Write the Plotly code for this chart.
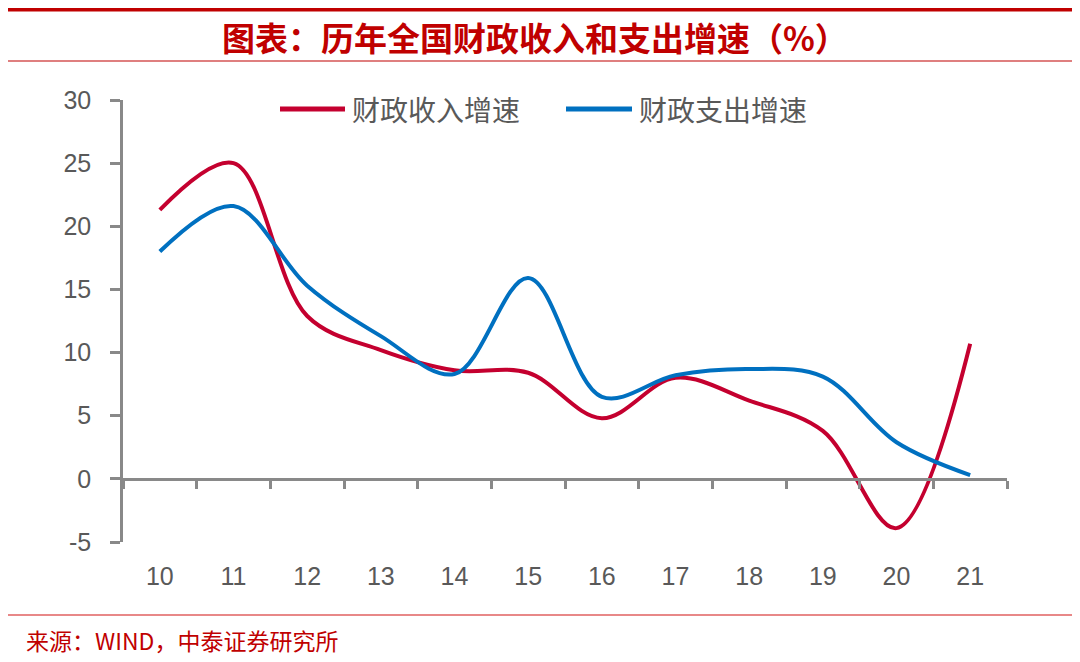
import plotly.graph_objects as go

years = ["10", "11", "12", "13", "14", "15", "16", "17", "18", "19", "20", "21"]
revenue = [21.3, 25.0, 12.9, 10.2, 8.6, 8.4, 4.8, 8.0, 6.2, 3.8, -3.9, 10.7]
expenditure = [18.0, 21.6, 15.3, 11.3, 8.3, 15.9, 6.5, 8.2, 8.7, 8.1, 2.9, 0.3]
y_ticks = [-5, 0, 5, 10, 15, 20, 25, 30]
rev_name = "财政收入增速"
exp_name = "财政支出增速"
title_text = "图表：历年全国财政收入和支出增速（%）"
source_text = "来源：WIND，中泰证券研究所"

RED = "#C4002F"
BLUE = "#0070C0"
AXIS = "#898989"
TXT = "#595959"

# page body has an 8px margin; plot area in window: x 123..1007, y 100..542
PW, PH = 884, 442


def px(X):
    return (X - 123) / PW


def py(Y):
    return (542 - Y) / PH


xi = list(range(len(years)))

fig = go.Figure()
fig.add_trace(go.Scatter(x=xi, y=revenue, name=rev_name, mode="lines",
                         line=dict(color=RED, width=4, shape="spline", smoothing=1.0)))
fig.add_trace(go.Scatter(x=xi, y=expenditure, name=exp_name, mode="lines",
                         line=dict(color=BLUE, width=4, shape="spline", smoothing=1.0)))
fig.add_trace(go.Scatter(x=[-0.5], y=[0], xaxis="x2", mode="markers",
                         marker=dict(opacity=0), showlegend=False, hoverinfo="skip"))

ymin, ymax = -5, 30
fig.update_layout(
    width=1072, height=654,
    paper_bgcolor="white", plot_bgcolor="white",
    margin=dict(l=115, r=73, t=92, b=120, autoexpand=False),
    font=dict(family="Liberation Sans, Arial", color=TXT),
    showlegend=False,
    xaxis=dict(range=[-0.5, len(years) - 0.5], tickvals=xi, ticktext=years,
               showline=False, showgrid=False, zeroline=False, ticks="", automargin=False,
               tickfont=dict(size=25, color=TXT), ticklabelstandoff=17),
    xaxis2=dict(overlaying="x", anchor="free", position=(0 - ymin) / (ymax - ymin),
                range=[-0.5, len(years) - 0.5],
                tickvals=[i - 0.5 for i in range(len(years) + 1)],
                showticklabels=False, showline=True, linecolor=AXIS, linewidth=2.5,
                ticks="outside", ticklen=8, tickwidth=2.5, tickcolor=AXIS,
                showgrid=False, zeroline=False, automargin=False),
    yaxis=dict(range=[ymin, ymax], tickvals=y_ticks, ticktext=[str(v) for v in y_ticks],
               showline=True, linecolor=AXIS, linewidth=2.5, ticks="outside",
               ticklen=10, tickwidth=2.5, tickcolor=AXIS, showgrid=False, zeroline=False,
               automargin=False, tickfont=dict(size=25, color=TXT), ticklabelstandoff=14),
)

# manual legend
legend_items = [(rev_name, RED, 280, 345, 350), (exp_name, BLUE, 566, 632, 637)]
for name, color, x0, x1, xt in legend_items:
    fig.add_shape(type="line", xref="paper", yref="paper", x0=px(x0), x1=px(x1),
                  y0=py(109), y1=py(109), line=dict(color=color, width=5))
    fig.add_annotation(text=name, xref="paper", yref="paper", x=px(xt), y=py(109),
                       xanchor="left", yanchor="middle", showarrow=False,
                       font=dict(family="Noto Sans CJK SC", size=28, color=TXT))

# header / footer decorations
fig.add_shape(type="line", xref="paper", yref="paper", x0=px(0), x1=px(1080),
              y0=py(9), y1=py(9), line=dict(color="#C00000", width=5))
fig.add_shape(type="line", xref="paper", yref="paper", x0=px(2), x1=px(1080),
              y0=py(61), y1=py(61), line=dict(color="#C00000", width=1.2))
fig.add_shape(type="line", xref="paper", yref="paper", x0=px(4), x1=px(1080),
              y0=py(615), y1=py(615), line=dict(color="#E06060", width=1.5))

fig.add_annotation(text="<b>" + title_text + "</b>", xref="paper", yref="paper",
                   x=px(535), y=py(37), xanchor="center", yanchor="middle",
                   showarrow=False, font=dict(family="Noto Sans CJK SC", size=33, color="#C00000"))
fig.add_annotation(text=source_text, xref="paper", yref="paper",
                   x=px(24), y=py(640), xanchor="left", yanchor="middle",
                   showarrow=False, font=dict(family="Noto Sans CJK SC", size=23, color="#C00000"))

fig.write_html("out.html")
